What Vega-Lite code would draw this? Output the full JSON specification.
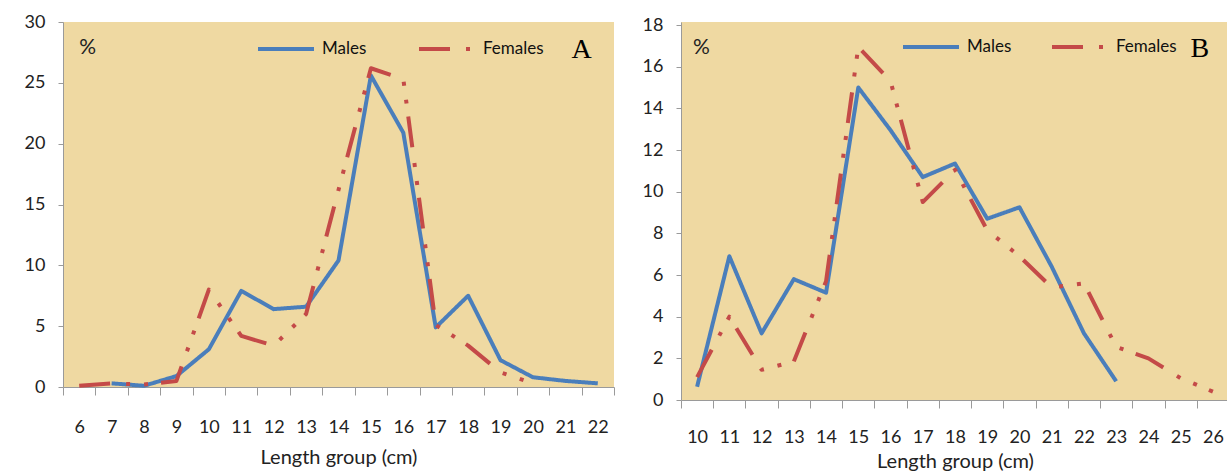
{
  "$schema": "https://vega.github.io/schema/vega-lite/v6.json",
  "padding": {"left": 24, "top": 13, "right": 0, "bottom": 0},
  "background": "white",
  "spacing": 67,
  "bounds": "flush",
  "datasets": {
    "A": [
      {"len": 7, "sex": "Males", "pct": 0.3},
      {"len": 8, "sex": "Males", "pct": 0.1},
      {"len": 9, "sex": "Males", "pct": 0.9},
      {"len": 10, "sex": "Males", "pct": 3.1},
      {"len": 11, "sex": "Males", "pct": 7.9},
      {"len": 12, "sex": "Males", "pct": 6.4},
      {"len": 13, "sex": "Males", "pct": 6.6},
      {"len": 14, "sex": "Males", "pct": 10.4},
      {"len": 15, "sex": "Males", "pct": 25.6},
      {"len": 16, "sex": "Males", "pct": 20.9},
      {"len": 17, "sex": "Males", "pct": 4.9},
      {"len": 18, "sex": "Males", "pct": 7.5},
      {"len": 19, "sex": "Males", "pct": 2.2},
      {"len": 20, "sex": "Males", "pct": 0.8},
      {"len": 21, "sex": "Males", "pct": 0.5},
      {"len": 22, "sex": "Males", "pct": 0.3},
      {"len": 6, "sex": "Females", "pct": 0.1},
      {"len": 7, "sex": "Females", "pct": 0.3},
      {"len": 8, "sex": "Females", "pct": 0.2},
      {"len": 9, "sex": "Females", "pct": 0.5},
      {"len": 10, "sex": "Females", "pct": 8.0},
      {"len": 11, "sex": "Females", "pct": 4.2},
      {"len": 12, "sex": "Females", "pct": 3.4},
      {"len": 13, "sex": "Females", "pct": 6.0},
      {"len": 14, "sex": "Females", "pct": 16.2},
      {"len": 15, "sex": "Females", "pct": 26.2},
      {"len": 16, "sex": "Females", "pct": 25.3},
      {"len": 17, "sex": "Females", "pct": 5.1},
      {"len": 18, "sex": "Females", "pct": 3.4},
      {"len": 19, "sex": "Females", "pct": 1.2},
      {"len": 20, "sex": "Females", "pct": 0.3}
    ],
    "B": [
      {"len": 10, "sex": "Males", "pct": 0.64},
      {"len": 11, "sex": "Males", "pct": 6.9},
      {"len": 12, "sex": "Males", "pct": 3.2},
      {"len": 13, "sex": "Males", "pct": 5.8},
      {"len": 14, "sex": "Males", "pct": 5.15},
      {"len": 15, "sex": "Males", "pct": 15.0},
      {"len": 16, "sex": "Males", "pct": 12.95},
      {"len": 17, "sex": "Males", "pct": 10.7},
      {"len": 18, "sex": "Males", "pct": 11.35},
      {"len": 19, "sex": "Males", "pct": 8.7},
      {"len": 20, "sex": "Males", "pct": 9.25},
      {"len": 21, "sex": "Males", "pct": 6.4},
      {"len": 22, "sex": "Males", "pct": 3.2},
      {"len": 23, "sex": "Males", "pct": 0.9},
      {"len": 10, "sex": "Females", "pct": 1.1},
      {"len": 11, "sex": "Females", "pct": 4.0},
      {"len": 12, "sex": "Females", "pct": 1.45},
      {"len": 13, "sex": "Females", "pct": 1.85},
      {"len": 14, "sex": "Females", "pct": 5.7},
      {"len": 15, "sex": "Females", "pct": 16.95},
      {"len": 16, "sex": "Females", "pct": 15.3},
      {"len": 17, "sex": "Females", "pct": 9.5},
      {"len": 18, "sex": "Females", "pct": 11.05},
      {"len": 19, "sex": "Females", "pct": 8.15},
      {"len": 20, "sex": "Females", "pct": 6.9},
      {"len": 21, "sex": "Females", "pct": 5.4},
      {"len": 22, "sex": "Females", "pct": 5.6},
      {"len": 23, "sex": "Females", "pct": 2.55},
      {"len": 24, "sex": "Females", "pct": 2.0},
      {"len": 25, "sex": "Females", "pct": 1.05},
      {"len": 26, "sex": "Females", "pct": 0.4}
    ]
  },
  "config": {
    "font": "Lato",
    "view": {"fill": "#EFD9A2", "stroke": null},
    "axis": {
      "labelFont": "Lato", "labelFontSize": 18, "labelColor": "#222222",
      "titleFont": "Lato", "titleFontSize": 20, "titleColor": "#222222", "titleFontWeight": "normal",
      "domainColor": "#9a9a9a", "tickColor": "#9a9a9a", "grid": false
    },
    "legend": {
      "labelFont": "Lato", "labelFontSize": 17, "labelColor": "#111111",
      "symbolType": "stroke", "symbolSize": 3136, "symbolStrokeWidth": 4,
      "orient": "none", "direction": "horizontal", "title": null, "labelOffset": 6
    }
  },
  "resolve": {"scale": {"x": "independent", "y": "independent", "color": "independent", "strokeDash": "independent"}, "legend": {"color": "independent", "strokeDash": "independent"}},
  "hconcat": [
    {
      "width": 551, "height": 365,
      "data": {"name": "A"},
      "encoding": {
        "x": {"field": "len", "type": "ordinal", "title": "Length group (cm)",
          "scale": {"type": "band", "paddingInner": 0, "paddingOuter": 0, "domain": [6,7,8,9,10,11,12,13,14,15,16,17,18,19,20,21,22]},
          "axis": {"tickBand": "extent", "tickSize": 8, "labelPadding": 23, "labelAngle": 0, "titlePadding": 11}},
        "y": {"field": "pct", "type": "quantitative", "title": null,
          "scale": {"domain": [0, 30], "nice": false},
          "axis": {"values": [0,5,10,15,20,25,30], "tickSize": 5, "labelPadding": 13}}
      },
      "layer": [
        {"transform": [{"filter": "datum.sex === 'Males'"}],
         "mark": {"type": "line", "strokeWidth": 4, "strokeJoin": "round"},
         "encoding": {
           "color": {"field": "sex", "type": "nominal",
             "scale": {"domain": ["Males", "Females"], "range": ["#4A7EBB", "#C44A48"]},
             "legend": {"legendX": 193, "legendY": -3, "columnPadding": 44}},
           "strokeDash": {"field": "sex", "type": "nominal",
             "scale": {"domain": ["Males", "Females"], "range": [[1, 0], [31, 16, 4, 14, 4, 13]]},
             "legend": {"legendX": 193, "legendY": -3, "columnPadding": 44}}}},
        {"transform": [{"filter": "datum.sex === 'Females'"}],
         "mark": {"type": "line", "strokeWidth": 4, "strokeJoin": "round"},
         "encoding": {
           "color": {"field": "sex", "type": "nominal",
             "scale": {"domain": ["Males", "Females"], "range": ["#4A7EBB", "#C44A48"]},
             "legend": {"legendX": 193, "legendY": -3, "columnPadding": 44}},
           "strokeDash": {"field": "sex", "type": "nominal",
             "scale": {"domain": ["Males", "Females"], "range": [[1, 0], [31, 16, 4, 14, 4, 13]]},
             "legend": {"legendX": 193, "legendY": -3, "columnPadding": 44}}}},
        {"transform": [{"filter": "datum.sex === 'Females' && datum.len === 6"}],
         "mark": {"type": "text", "text": "%", "fontSize": 21, "align": "left", "baseline": "middle", "color": "#222222", "font": "Lato"},
         "encoding": {"y": {"datum": 27.9}}},
        {"transform": [{"filter": "datum.sex === 'Males' && datum.len === 22"}],
         "mark": {"type": "text", "text": "A", "fontSize": 28, "align": "center", "baseline": "middle", "color": "#000000", "font": "Liberation Serif"},
         "encoding": {"x": {"field": "len", "type": "ordinal", "bandPosition": 0}, "y": {"datum": 27.7}}}
      ]
    },
    {
      "width": 548, "height": 378,
      "data": {"name": "B"},
      "encoding": {
        "x": {"field": "len", "type": "ordinal", "title": "Length group (cm)",
          "scale": {"type": "band", "paddingInner": 0, "paddingOuter": 0, "domain": [10,11,12,13,14,15,16,17,18,19,20,21,22,23,24,25,26]},
          "axis": {"tickBand": "extent", "tickSize": 8, "labelPadding": 20, "labelAngle": 0, "titlePadding": 5}},
        "y": {"field": "pct", "type": "quantitative", "title": null,
          "scale": {"domain": [0, 18.144], "nice": false},
          "axis": {"values": [0,2,4,6,8,10,12,14,16,18], "tickSize": 5, "labelPadding": 13}}
      },
      "layer": [
        {"transform": [{"filter": "datum.sex === 'Males'"}],
         "mark": {"type": "line", "strokeWidth": 4, "strokeJoin": "round"},
         "encoding": {
           "color": {"field": "sex", "type": "nominal",
             "scale": {"domain": ["Males", "Females"], "range": ["#4A7EBB", "#C44A48"]},
             "legend": {"legendX": 220, "legendY": -5, "columnPadding": 32}},
           "strokeDash": {"field": "sex", "type": "nominal",
             "scale": {"domain": ["Males", "Females"], "range": [[1, 0], [31, 16, 4, 14, 4, 13]]},
             "legend": {"legendX": 220, "legendY": -5, "columnPadding": 32}}}},
        {"transform": [{"filter": "datum.sex === 'Females'"}],
         "mark": {"type": "line", "strokeWidth": 4, "strokeJoin": "round"},
         "encoding": {
           "color": {"field": "sex", "type": "nominal",
             "scale": {"domain": ["Males", "Females"], "range": ["#4A7EBB", "#C44A48"]},
             "legend": {"legendX": 220, "legendY": -5, "columnPadding": 32}},
           "strokeDash": {"field": "sex", "type": "nominal",
             "scale": {"domain": ["Males", "Females"], "range": [[1, 0], [31, 16, 4, 14, 4, 13]]},
             "legend": {"legendX": 220, "legendY": -5, "columnPadding": 32}}}},
        {"transform": [{"filter": "datum.sex === 'Females' && datum.len === 10"}],
         "mark": {"type": "text", "text": "%", "fontSize": 21, "align": "left", "baseline": "middle", "color": "#222222", "font": "Lato", "dx": -4},
         "encoding": {"y": {"datum": 16.9}}},
        {"transform": [{"filter": "datum.sex === 'Females' && datum.len === 26"}],
         "mark": {"type": "text", "text": "B", "fontSize": 28, "align": "center", "baseline": "middle", "color": "#000000", "font": "Liberation Serif", "dx": 3},
         "encoding": {"x": {"field": "len", "type": "ordinal", "bandPosition": 0}, "y": {"datum": 16.85}}}
      ]
    }
  ]
}
